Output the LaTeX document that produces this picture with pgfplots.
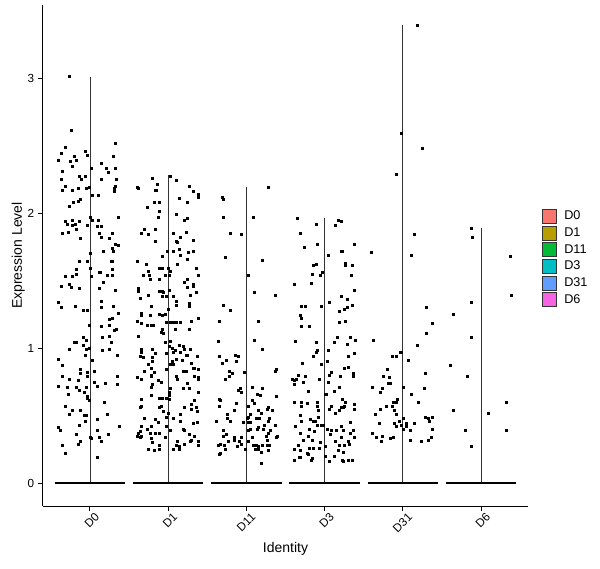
\documentclass[border=0pt]{standalone}
\usepackage{pgfplots}
\pgfplotsset{compat=1.18}
\usepackage{fontspec}
\setmainfont{Liberation Sans}

% ggplot hue palette
\definecolor{cD0}{HTML}{F8766D}
\definecolor{cD1}{HTML}{B79F00}
\definecolor{cD11}{HTML}{00BA38}
\definecolor{cD3}{HTML}{00BFC4}
\definecolor{cD31}{HTML}{619CFF}
\definecolor{cD6}{HTML}{F564E3}
\definecolor{edge}{HTML}{333333}

\begin{document}
\begin{tikzpicture}
\path[use as bounding box] (-32.25pt,-46.5pt) rectangle (417.75pt,379.5pt);
\begin{axis}[
    at={(0,0)}, anchor=south west,
    scale only axis,
    width=363.75pt, height=375.75pt,
    xmin=0.4, xmax=6.6,
    ymin=-0.170, ymax=3.541,
    axis lines*=left,
    axis line style={line width=0.75pt, black},
    tick align=outside,
    major tick length=3.5pt,
    tick style={line width=0.75pt, black},
    xtick={1,2,3,4,5,6},
    xticklabels={D0,D1,D11,D3,D31,D6},
    ytick={0,1,2,3},
    /pgf/number format/assume math mode=true,
    tick label style={font=\fontsize{8.8}{10}\selectfont},
    xticklabel style={rotate=45, anchor=north east, inner sep=1pt, xshift=2.5pt, yshift=-2pt},
    yticklabel style={inner sep=1pt, xshift=-2pt},
    xlabel={Identity},
    ylabel={Expression Level},
    label style={font=\fontsize{10.5}{12}\selectfont},
    xlabel style={at={(axis description cs:0.5,-0.0719)}, anchor=north, inner sep=0pt},
    ylabel style={at={(axis description cs:-0.0371,0.5)}, anchor=south, inner sep=0pt},
    legend style={at={(axis description cs:1.0289,0.495)}, anchor=west,
        draw=none, fill=none, inner sep=0pt, row sep=1.5pt, column sep=5.5pt,
        font=\fontsize{9.5}{11}\selectfont, nodes={inner sep=0pt}},
    legend cell align=left,
    legend image code/.code={\draw[#1] (0pt,-5.25pt) rectangle (10.5pt,5.25pt);},
    clip=false,
]
% legend keys
\addlegendimage{fill=cD0, draw=edge, line width=0.5pt}
\addlegendentry{D0}
\addlegendimage{fill=cD1, draw=edge, line width=0.5pt}
\addlegendentry{D1}
\addlegendimage{fill=cD11, draw=edge, line width=0.5pt}
\addlegendentry{D11}
\addlegendimage{fill=cD3, draw=edge, line width=0.5pt}
\addlegendentry{D3}
\addlegendimage{fill=cD31, draw=edge, line width=0.5pt}
\addlegendentry{D31}
\addlegendimage{fill=cD6, draw=edge, line width=0.5pt}
\addlegendentry{D6}

% violins (collapsed to lines)
\addplot[forget plot, edge, line width=0.6pt] coordinates {(1,0)(1,3.01)};
\addplot[forget plot, edge, line width=0.6pt] coordinates {(2,0)(2,2.28)};
\addplot[forget plot, edge, line width=0.6pt] coordinates {(3,0)(3,2.19)};
\addplot[forget plot, edge, line width=0.6pt] coordinates {(4,0)(4,1.96)};
\addplot[forget plot, edge, line width=0.6pt] coordinates {(5,0)(5,3.39)};
\addplot[forget plot, edge, line width=0.6pt] coordinates {(6,0)(6,1.89)};

% cells with zero expression (dense jitter band)
\addplot[forget plot, black, line width=1.5pt] coordinates {(0.55,0)(1.45,0)};
\addplot[forget plot, black, line width=1.5pt] coordinates {(1.55,0)(2.45,0)};
\addplot[forget plot, black, line width=1.5pt] coordinates {(2.55,0)(3.45,0)};
\addplot[forget plot, black, line width=1.5pt] coordinates {(3.55,0)(4.45,0)};
\addplot[forget plot, black, line width=1.5pt] coordinates {(4.55,0)(5.45,0)};
\addplot[forget plot, black, line width=1.5pt] coordinates {(5.55,0)(6.45,0)};

% D0
\addplot[forget plot, only marks, mark=square*, mark size=0.75pt, black] coordinates {
(0.73,3.01)(0.765,2.61)(1.33,2.52)(0.69,2.49)(0.945,2.46)(0.63,2.44)(0.96,2.43)(1.30,2.42)(0.80,2.42)(0.60,2.39)
(0.82,2.39)(0.75,2.38)(1.14,2.37)(0.78,2.35)(1.32,2.33)(1.02,2.33)(1.21,2.33)(1.23,2.30)(0.65,2.31)(1.14,2.25)
(0.63,2.25)(0.86,2.27)(0.89,2.25)(0.945,2.27)(1.34,2.25)(0.69,2.20)(1.32,2.20)(0.99,2.19)(0.95,2.18)(0.85,2.18)
(0.65,2.17)(0.78,2.17)(1.31,2.18)(1.31,2.16)(1.03,2.13)(1.11,2.13)(0.88,2.10)(0.85,2.09)(0.79,2.08)(0.73,2.05)
(1.00,1.97)(1.36,1.97)(1.03,1.95)(1.11,1.95)(0.68,1.94)(0.78,1.95)(0.71,1.92)(0.81,1.92)(0.87,1.94)(0.77,1.91)
(0.97,1.91)(1.09,1.90)(1.14,1.90)(0.82,1.88)(0.72,1.86)(0.64,1.85)(1.12,1.85)(1.28,1.85)(1.14,1.82)(1.25,1.81)
(0.88,1.81)(1.33,1.77)(1.36,1.76)(1.29,1.74)(1.17,1.72)(1.30,1.72)(1.00,1.70)(0.96,1.64)(0.86,1.64)(1.27,1.64)
(1.28,1.64)(1.01,1.59)(1.29,1.58)(0.82,1.58)(1.12,1.56)(1.13,1.56)(0.83,1.55)(1.29,1.54)(1.22,1.54)(1.02,1.53)
(0.69,1.53)(0.78,1.53)(1.17,1.49)(0.63,1.46)(0.73,1.47)(0.76,1.45)(1.12,1.44)(0.87,1.44)(1.32,1.43)
(0.60,1.34)(0.81,1.31)(1.14,1.35)(1.30,1.31)(0.63,1.30)(1.15,1.30)(0.92,1.28)(0.96,1.28)(1.36,1.26)(1.29,1.22)
(1.25,1.21)(0.99,1.17)(1.25,1.17)(1.15,1.16)(1.34,1.14)(1.31,1.13)(1.25,1.09)(0.92,1.08)(1.16,1.08)(0.95,1.06)
(0.83,1.04)(0.80,1.04)(1.27,1.04)(0.91,1.02)(0.92,1.02)(0.99,1.00)(1.25,0.99)(0.95,0.99)(0.73,0.99)(1.16,0.98)
(0.94,0.95)(1.35,0.95)(0.60,0.92)(1.03,0.91)(0.64,0.87)(0.88,0.84)(1.05,0.83)(0.97,0.82)(0.88,0.81)(1.35,0.79)
(0.96,0.79)(0.65,0.79)(0.74,0.77)(0.85,0.76)(1.06,0.75)(1.19,0.74)(1.09,0.72)(1.35,0.73)(0.59,0.72)(0.71,0.71)
(0.95,0.71)(0.86,0.69)(0.82,0.71)(0.93,0.67)(0.72,0.66)(0.97,0.64)(0.97,0.63)(0.99,0.61)(1.18,0.60)(0.68,0.57)
(0.78,0.54)(0.88,0.54)(0.74,0.51)(0.93,0.50)(0.95,0.50)(1.22,0.51)(1.09,0.47)(0.94,0.46)(0.87,0.43)(1.37,0.42)
(0.59,0.41)(0.62,0.39)(1.10,0.39)(0.82,0.36)(1.23,0.36)(1.00,0.34)(1.02,0.33)(1.12,0.34)(0.88,0.31)(1.15,0.31)
(0.85,0.29)(0.64,0.28)(0.69,0.22)(1.09,0.19)
};
% D1
\addplot[forget plot, only marks, mark=square*, mark size=0.75pt, black] coordinates {
(1.80,2.26)(2.03,2.27)(2.11,2.24)(1.60,2.19)(1.86,2.21)(2.27,2.20)(1.62,2.18)(1.83,2.17)(1.85,2.17)(2.32,2.16)
(2.39,2.14)(2.38,2.12)(2.14,2.11)(2.25,2.08)(1.82,2.08)(1.89,2.08)(1.73,2.04)(1.88,2.01)(2.10,1.99)(1.87,1.97)
(2.24,1.96)(2.20,1.95)(1.69,1.88)(1.84,1.88)(1.66,1.85)(1.74,1.84)(2.06,1.85)(2.23,1.86)(2.15,1.82)(1.84,1.79)
(2.32,1.80)(2.10,1.79)(2.12,1.78)(1.99,1.72)(2.06,1.72)(2.14,1.73)(2.26,1.71)(2.32,1.72)(2.15,1.69)(1.93,1.68)
(2.24,1.66)(1.60,1.64)(1.72,1.62)(2.12,1.62)(2.00,1.59)(1.89,1.59)(1.93,1.59)(2.36,1.59)(1.74,1.57)(2.03,1.57)
(1.68,1.54)(1.76,1.54)(1.96,1.54)(2.01,1.54)(2.39,1.54)(1.77,1.51)(1.88,1.51)(2.25,1.51)(2.20,1.49)(2.32,1.47)
(2.32,1.46)(1.62,1.44)(2.25,1.45)(1.62,1.42)(1.88,1.42)(1.92,1.42)(2.01,1.43)(1.94,1.41)(2.36,1.41)(1.74,1.39)
(1.92,1.38)(1.97,1.38)(2.07,1.38)(2.28,1.39)(1.64,1.37)(2.11,1.35)(2.11,1.32)(2.27,1.33)(2.27,1.31)(1.78,1.31)
(2.00,1.29)(1.66,1.26)(1.65,1.24)(1.77,1.24)(1.88,1.25)(1.93,1.24)(1.96,1.25)(2.38,1.22)
(1.60,1.20)(1.65,1.18)(1.73,1.17)(1.79,1.17)(1.81,1.17)(1.97,1.19)(2.03,1.19)(2.06,1.19)(2.10,1.19)(2.16,1.19)
(2.30,1.20)(1.93,1.14)(1.91,1.12)(1.94,1.11)(2.09,1.14)(2.27,1.14)(1.62,1.09)(2.03,1.05)(1.96,1.04)(2.14,1.02)
(2.02,1.01)(2.19,1.01)(2.05,1.00)(2.21,0.99)(1.65,0.99)(1.80,0.99)(2.28,0.99)(2.09,0.98)(2.07,0.97)(1.66,0.97)
(1.83,0.96)(1.98,0.96)(2.16,0.97)(2.23,0.95)(2.25,0.95)(2.37,0.94)(1.64,0.94)(1.68,0.93)(1.80,0.93)(2.11,0.92)
(2.18,0.91)(2.05,0.90)(1.80,0.90)(2.03,0.88)(2.07,0.88)(2.29,0.89)(1.74,0.88)(2.32,0.85)(2.33,0.85)(1.79,0.85)
(1.97,0.84)(2.19,0.83)(2.23,0.83)(2.38,0.84)(1.69,0.83)(1.82,0.82)(1.79,0.80)(2.10,0.79)(1.78,0.79)(2.34,0.79)
(1.61,0.78)(1.66,0.77)(2.12,0.77)(2.38,0.78)(2.39,0.77)(1.87,0.76)(1.91,0.75)(2.24,0.74)(1.80,0.73)(1.79,0.71)
(2.27,0.70)(2.03,0.70)(2.19,0.70)(2.38,0.67)(2.01,0.67)(2.02,0.65)(1.78,0.65)(1.88,0.63)(1.92,0.63)(1.98,0.63)
(2.02,0.62)(1.65,0.62)(2.34,0.61)(2.29,0.58)(1.66,0.57)(1.91,0.57)(1.64,0.56)(1.89,0.56)(2.20,0.56)(2.36,0.56)
(2.30,0.55)(1.94,0.53)(2.37,0.53)(2.00,0.52)(2.15,0.51)(1.97,0.49)(2.07,0.48)(1.70,0.48)(2.15,0.46)(1.84,0.47)
(1.87,0.45)(2.37,0.45)(2.32,0.44)(1.98,0.42)(1.66,0.42)(1.78,0.42)(1.73,0.40)(2.19,0.40)(2.21,0.39)(2.03,0.39)
(1.64,0.38)(1.62,0.37)(1.77,0.37)(1.84,0.37)(1.89,0.37)(2.27,0.36)(1.60,0.35)(1.65,0.35)(1.64,0.34)(2.34,0.35)
(1.96,0.34)(1.78,0.33)(2.30,0.32)(2.28,0.31)(2.38,0.31)(1.80,0.30)(1.89,0.28)(2.12,0.31)(2.39,0.28)(2.11,0.28)
(2.14,0.27)(2.21,0.29)(1.75,0.25)(1.82,0.24)(1.88,0.25)(2.06,0.25)(2.14,0.25)
};
% D11
\addplot[forget plot, only marks, mark=square*, mark size=0.75pt, black] coordinates {
(3.28,2.19)(2.69,2.12)(2.71,2.10)(2.71,1.97)(3.09,1.97)(2.79,1.85)(2.93,1.84)(2.73,1.67)(3.20,1.65)(3.02,1.54)
(3.10,1.41)(3.37,1.39)(2.71,1.32)(2.79,1.28)(2.65,1.20)(3.15,1.20)(2.64,1.05)(3.10,1.06)(3.20,0.99)(2.65,0.94)
(2.86,0.95)(2.89,0.94)(2.74,0.91)(2.69,0.89)(2.87,0.90)(2.78,0.83)(2.82,0.81)(2.78,0.79)(2.97,0.82)(3.38,0.84)
(3.37,0.83)(2.73,0.77)(2.92,0.70)(2.89,0.69)(2.94,0.67)(3.07,0.71)(3.20,0.70)(3.14,0.66)(3.18,0.65)(3.38,0.64)
(2.65,0.62)(2.67,0.61)(2.87,0.59)(3.07,0.61)(3.10,0.59)(2.65,0.57)(3.03,0.57)(2.84,0.54)(3.15,0.54)(3.28,0.56)
(3.27,0.55)(3.33,0.54)(2.75,0.51)(3.19,0.52)(3.05,0.51)(3.01,0.48)(3.02,0.49)(3.12,0.48)(3.16,0.48)(3.29,0.48)
(2.62,0.46)(2.75,0.48)(2.80,0.46)(2.96,0.45)(3.02,0.45)(3.05,0.45)(3.28,0.46)(3.23,0.43)(3.37,0.43)(3.05,0.40)
(3.14,0.40)(3.15,0.41)(3.21,0.40)(3.30,0.39)(2.71,0.39)(3.03,0.39)(2.74,0.36)(3.28,0.37)(3.25,0.35)(2.70,0.35)
(3.07,0.34)(3.38,0.34)(3.39,0.35)(2.84,0.34)(2.94,0.34)(3.27,0.32)(2.77,0.31)(2.91,0.31)(3.03,0.31)(2.84,0.32)
(2.64,0.28)(2.67,0.29)(2.72,0.28)(2.94,0.29)(2.88,0.27)(2.98,0.25)(3.09,0.28)(3.12,0.28)(3.15,0.27)(3.20,0.28)
(3.27,0.28)(3.29,0.28)(2.73,0.25)(3.11,0.25)(3.15,0.25)(3.19,0.23)(3.28,0.24)(2.66,0.22)(2.65,0.21)(3.19,0.15)
};
% D3
\addplot[forget plot, only marks, mark=square*, mark size=0.75pt, black] coordinates {
(3.65,1.96)(3.89,1.92)(4.18,1.95)(4.21,1.94)(4.14,1.91)(3.69,1.85)(3.91,1.77)(4.38,1.77)(3.74,1.75)(4.21,1.72)
(4.23,1.72)(4.05,1.69)(4.27,1.63)(3.89,1.62)(3.85,1.61)(4.27,1.61)(4.35,1.61)(3.97,1.56)(3.84,1.55)(3.94,1.54)
(4.34,1.54)(3.61,1.47)(3.83,1.48)(4.38,1.43)(4.21,1.38)(4.29,1.36)(4.06,1.34)(4.35,1.32)(3.70,1.31)(3.75,1.31)
(3.96,1.31)(4.25,1.29)(4.29,1.30)(4.19,1.27)(3.69,1.24)(3.70,1.22)(4.27,1.20)(4.19,1.19)(3.70,1.16)(3.80,1.16)
(3.62,1.05)(3.89,1.04)(4.12,1.04)(4.16,1.08)(4.33,1.08)(4.39,1.06)(4.29,1.03)(4.05,0.98)(3.91,0.98)(3.89,0.97)
(4.38,0.96)(3.85,0.94)(4.30,0.94)(3.71,0.89)(4.03,0.90)(3.96,0.88)(4.30,0.86)(4.25,0.85)(4.09,0.82)(3.66,0.80)
(4.06,0.80)(4.37,0.81)(4.37,0.79)(3.75,0.79)(4.20,0.79)(3.59,0.77)(3.61,0.76)(3.64,0.77)(3.93,0.77)(4.05,0.75)
(3.73,0.75)(3.61,0.73)(4.19,0.71)(4.12,0.68)(3.79,0.68)(4.01,0.66)(4.02,0.66)(4.23,0.62)(3.61,0.60)(3.70,0.60)
(3.78,0.59)(3.91,0.60)(4.27,0.60)(4.38,0.58)(3.70,0.57)(3.91,0.57)(4.09,0.57)(4.06,0.55)(4.21,0.56)(4.25,0.57)
(4.24,0.56)(4.38,0.55)(3.92,0.54)(4.14,0.52)(4.19,0.54)(3.69,0.50)(3.92,0.49)(3.70,0.46)(3.82,0.47)(3.85,0.46)
(3.88,0.46)(4.33,0.45)(3.96,0.43)(3.98,0.43)(3.62,0.42)(4.21,0.42)(3.91,0.43)(4.03,0.40)(4.09,0.39)(4.15,0.39)
(4.24,0.39)(4.37,0.39)(3.80,0.40)(3.87,0.38)(3.69,0.37)(4.07,0.36)(4.33,0.37)(3.79,0.35)(4.21,0.34)(4.38,0.34)
(3.73,0.32)(3.84,0.32)(4.14,0.31)(4.30,0.31)(3.94,0.30)(4.25,0.28)(4.19,0.28)(3.66,0.28)(3.80,0.26)(3.85,0.26)
(3.93,0.26)(4.01,0.27)(4.32,0.29)(3.61,0.25)(3.69,0.24)(4.18,0.24)(4.24,0.23)(3.78,0.22)(3.79,0.21)(4.01,0.20)
(4.12,0.20)(3.68,0.19)(3.84,0.18)(3.61,0.17)(3.69,0.19)(3.83,0.17)(4.06,0.16)(4.23,0.17)(4.24,0.16)(4.30,0.17)
(4.35,0.17)
};
% D31
\addplot[forget plot, only marks, mark=square*, mark size=0.75pt, black] coordinates {
(5.19,3.39)(4.98,2.59)(5.25,2.48)(4.92,2.29)(5.14,1.84)(4.60,1.71)(5.11,1.69)(5.30,1.30)(5.38,1.18)(5.30,1.11)
(4.62,1.06)(5.18,1.02)(4.97,0.97)(4.98,0.97)(4.87,0.94)(4.91,0.94)(5.07,0.91)(4.80,0.84)(5.29,0.81)(4.75,0.79)
(4.83,0.78)(4.82,0.74)(4.84,0.74)(4.61,0.71)(4.74,0.70)(5.01,0.71)(5.28,0.70)(4.71,0.67)(5.11,0.66)(4.93,0.62)
(4.88,0.60)(4.91,0.60)(5.20,0.60)(4.79,0.57)(4.87,0.57)(4.71,0.55)(4.89,0.54)(4.92,0.51)(4.65,0.51)(5.29,0.49)
(5.37,0.49)(5.33,0.48)(5.34,0.46)(5.00,0.48)(4.96,0.46)(4.70,0.44)(4.89,0.44)(5.05,0.44)(5.15,0.44)(4.98,0.43)
(4.91,0.42)(5.05,0.42)(5.01,0.40)(5.09,0.39)(5.37,0.40)(4.61,0.37)(4.74,0.35)(4.88,0.34)(5.36,0.34)(4.66,0.34)
(4.84,0.33)(5.10,0.32)(5.32,0.32)(5.24,0.31)(4.73,0.31)
};
% D6
\addplot[forget plot, only marks, mark=square*, mark size=0.75pt, black] coordinates {
(5.87,1.89)(5.89,1.82)(6.37,1.68)(6.38,1.39)(5.87,1.34)(5.65,1.25)(5.87,1.08)(5.60,0.87)(5.83,0.79)(6.32,0.60)
(5.64,0.54)(6.09,0.52)(5.80,0.39)(6.32,0.39)(5.87,0.27)
};
\end{axis}
\end{tikzpicture}
\end{document}
